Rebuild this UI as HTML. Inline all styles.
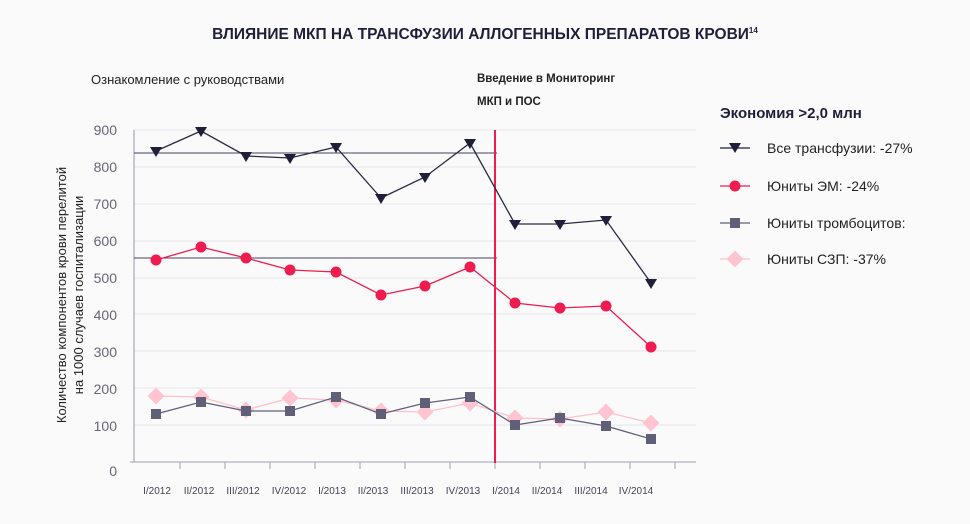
<!DOCTYPE html>
<html><head><meta charset="utf-8"><style>
body{margin:0;background:#fafafa;width:970px;height:519px;overflow:hidden;font-family:"Liberation Sans","DejaVu Sans",sans-serif}
</style></head><body>
<svg width="970" height="519" xmlns="http://www.w3.org/2000/svg" font-family="Liberation Sans, DejaVu Sans, sans-serif">
<rect width="970" height="519" fill="#fafafa"/>
<text x="485" y="39" text-anchor="middle" font-size="15.5" font-weight="bold" fill="#1f1f3a">ВЛИЯНИЕ МКП НА ТРАНСФУЗИИ АЛЛОГЕННЫХ ПРЕПАРАТОВ КРОВИ<tspan font-size="8" dy="-6">14</tspan></text>
<text x="91" y="84" font-size="13" fill="#222">Ознакомление с руководствами</text>
<text x="477" y="82" font-size="11.5" font-weight="bold" fill="#222">Введение в Мониторинг</text>
<text x="477" y="105" font-size="11.5" font-weight="bold" fill="#222">МКП и ПОС</text>
<text transform="translate(66,295) rotate(-90)" text-anchor="middle" font-size="13" fill="#222">Количество компонентов крови перелитой</text>
<text transform="translate(83,295) rotate(-90)" text-anchor="middle" font-size="13" fill="#222">на 1000 случаев госпитализации</text>
<g stroke="#e6e6ea" stroke-width="1">
<line x1="134" x2="696" y1="130" y2="130"/><line x1="134" x2="696" y1="167" y2="167"/><line x1="134" x2="696" y1="204" y2="204"/><line x1="134" x2="696" y1="241" y2="241"/><line x1="134" x2="696" y1="278" y2="278"/><line x1="134" x2="696" y1="314" y2="314"/><line x1="134" x2="696" y1="351" y2="351"/><line x1="134" x2="696" y1="388" y2="388"/><line x1="134" x2="696" y1="425" y2="425"/>
</g>
<line x1="134" y1="130" x2="134" y2="462" stroke="#c8c8d0" stroke-width="2"/>
<line x1="130" y1="462" x2="696" y2="462" stroke="#a0a0b0" stroke-width="1"/>
<g stroke="#a0a0b0"><line x1="180" x2="180" y1="462" y2="469"/><line x1="225" x2="225" y1="462" y2="469"/><line x1="270" x2="270" y1="462" y2="469"/><line x1="315" x2="315" y1="462" y2="469"/><line x1="360" x2="360" y1="462" y2="469"/><line x1="405" x2="405" y1="462" y2="469"/><line x1="450" x2="450" y1="462" y2="469"/><line x1="495" x2="495" y1="462" y2="469"/><line x1="540" x2="540" y1="462" y2="469"/><line x1="585" x2="585" y1="462" y2="469"/><line x1="630" x2="630" y1="462" y2="469"/><line x1="675" x2="675" y1="462" y2="469"/></g>
<g font-size="14" fill="#666677" text-anchor="end">
<text x="117" y="135">900</text><text x="117" y="172">800</text><text x="117" y="209">700</text><text x="117" y="246">600</text><text x="117" y="283">500</text><text x="117" y="320">400</text><text x="117" y="357">300</text><text x="117" y="394">200</text><text x="117" y="431">100</text><text x="117" y="476">0</text></g>
<g font-size="10" fill="#444455" text-anchor="middle">
<text x="157" y="494">I/2012</text><text x="199" y="494">II/2012</text><text x="243" y="494">III/2012</text><text x="289" y="494">IV/2012</text><text x="332" y="494">I/2013</text><text x="373" y="494">II/2013</text><text x="417" y="494">III/2013</text><text x="463" y="494">IV/2013</text><text x="506" y="494">I/2014</text><text x="547" y="494">II/2014</text><text x="591" y="494">III/2014</text><text x="636" y="494">IV/2014</text></g>
<line x1="134" x2="497" y1="153" y2="153" stroke="#44445e" stroke-width="1"/>
<line x1="134" x2="497" y1="258" y2="258" stroke="#44445e" stroke-width="1"/>
<line x1="495" x2="495" y1="130" y2="463" stroke="#ee1c4f" stroke-width="2"/>
<polyline fill="none" stroke="#ffc0cc" stroke-width="1.3" points="156,396 201,397 246,410 290,398 336,400 381,411 425,412 470,403 515,418 560,419 606,412 651,423"/>
<g fill="#ffc4d0">
<rect x="-6" y="-6" width="12" height="12" transform="translate(156,396) rotate(45)"/><rect x="-6" y="-6" width="12" height="12" transform="translate(201,397) rotate(45)"/><rect x="-6" y="-6" width="12" height="12" transform="translate(246,410) rotate(45)"/><rect x="-6" y="-6" width="12" height="12" transform="translate(290,398) rotate(45)"/><rect x="-6" y="-6" width="12" height="12" transform="translate(336,400) rotate(45)"/><rect x="-6" y="-6" width="12" height="12" transform="translate(381,411) rotate(45)"/><rect x="-6" y="-6" width="12" height="12" transform="translate(425,412) rotate(45)"/><rect x="-6" y="-6" width="12" height="12" transform="translate(470,403) rotate(45)"/><rect x="-6" y="-6" width="12" height="12" transform="translate(515,418) rotate(45)"/><rect x="-6" y="-6" width="12" height="12" transform="translate(560,419) rotate(45)"/><rect x="-6" y="-6" width="12" height="12" transform="translate(606,412) rotate(45)"/><rect x="-6" y="-6" width="12" height="12" transform="translate(651,423) rotate(45)"/></g>
<polyline fill="none" stroke="#5f5f78" stroke-width="1.3" points="156,414 201,402 246,411 290,411 336,397 381,414 425,403 470,397 515,425 560,418 606,426 651,439"/>
<g fill="#5f5f78">
<rect x="151" y="409" width="10" height="10"/><rect x="196" y="397" width="10" height="10"/><rect x="241" y="406" width="10" height="10"/><rect x="285" y="406" width="10" height="10"/><rect x="331" y="392" width="10" height="10"/><rect x="376" y="409" width="10" height="10"/><rect x="420" y="398" width="10" height="10"/><rect x="465" y="392" width="10" height="10"/><rect x="510" y="420" width="10" height="10"/><rect x="555" y="413" width="10" height="10"/><rect x="601" y="421" width="10" height="10"/><rect x="646" y="434" width="10" height="10"/></g>
<polyline fill="none" stroke="#ee1c4f" stroke-width="1.3" points="156,260 201,247 246,258 290,270 336,272 381,295 425,286 470,267 515,303 560,308 606,306 651,347"/>
<g fill="#ee1c4f">
<circle cx="156" cy="260" r="5.5"/><circle cx="201" cy="247" r="5.5"/><circle cx="246" cy="258" r="5.5"/><circle cx="290" cy="270" r="5.5"/><circle cx="336" cy="272" r="5.5"/><circle cx="381" cy="295" r="5.5"/><circle cx="425" cy="286" r="5.5"/><circle cx="470" cy="267" r="5.5"/><circle cx="515" cy="303" r="5.5"/><circle cx="560" cy="308" r="5.5"/><circle cx="606" cy="306" r="5.5"/><circle cx="651" cy="347" r="5.5"/></g>
<polyline fill="none" stroke="#2a2a45" stroke-width="1.3" points="156,151 201,131 246,156 290,158 336,147 381,198 425,177 470,143 515,224 560,224 606,220 651,283"/>
<g fill="#1f1f3a">
<path d="M150,147h12l-6,10z"/><path d="M195,127h12l-6,10z"/><path d="M240,152h12l-6,10z"/><path d="M284,154h12l-6,10z"/><path d="M330,143h12l-6,10z"/><path d="M375,194h12l-6,10z"/><path d="M419,173h12l-6,10z"/><path d="M464,139h12l-6,10z"/><path d="M509,220h12l-6,10z"/><path d="M554,220h12l-6,10z"/><path d="M600,216h12l-6,10z"/><path d="M645,279h12l-6,10z"/></g>
<text x="720" y="118" font-size="15" font-weight="bold" fill="#1f1f3a">Экономия &gt;2,0 млн</text>
<line x1="720" x2="750" y1="148" y2="148" stroke="#1f1f3a" stroke-width="1.3"/><path d="M729,143h12l-6,10z" fill="#1f1f3a"/>
<text x="767" y="153" font-size="14" fill="#222">Все трансфузии: -27%</text>
<line x1="720" x2="750" y1="186" y2="186" stroke="#ee1c4f" stroke-width="1.3"/><circle cx="735" cy="186" r="5.5" fill="#ee1c4f"/>
<text x="767" y="191" font-size="14" fill="#222">Юниты ЭМ: -24%</text>
<line x1="720" x2="750" y1="223" y2="223" stroke="#5f5f78" stroke-width="1.3"/><rect x="730" y="218" width="10" height="10" fill="#5f5f78"/>
<text x="767" y="228" font-size="14" fill="#222">Юниты тромбоцитов:</text>
<line x1="720" x2="750" y1="259" y2="259" stroke="#ffc0cc" stroke-width="1.3"/><rect x="-6" y="-6" width="12" height="12" transform="translate(735,259) rotate(45)" fill="#ffc4d0"/>
<text x="767" y="264" font-size="14" fill="#222">Юниты СЗП: -37%</text>
</svg>
</body></html>
